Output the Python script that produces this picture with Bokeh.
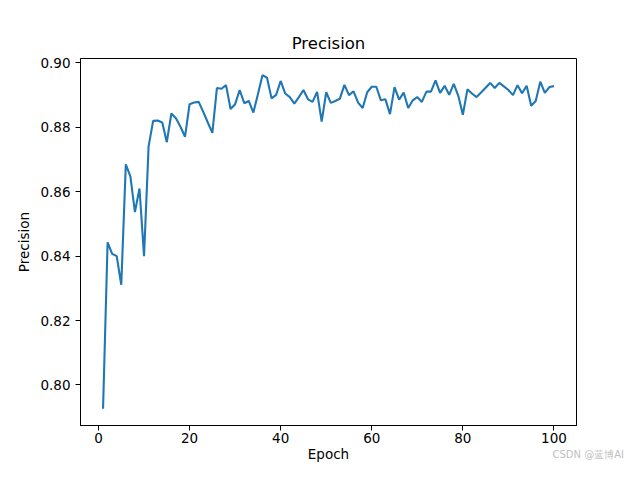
from bokeh.plotting import figure
from bokeh.models import Range1d, FixedTicker, NumeralTickFormatter, Div
from bokeh.layouts import column
from bokeh.embed import file_html
from bokeh.resources import INLINE

epochs = list(range(1, 101))
precision = [
    0.7926, 0.8443, 0.8407, 0.8400, 0.8311, 0.8685, 0.8648, 0.8537, 0.8610, 0.8400,
    0.8741, 0.8820, 0.8821, 0.8815, 0.8754, 0.8843, 0.8828, 0.8802, 0.8771, 0.8872,
    0.8877, 0.8879, 0.8848, 0.8815, 0.8783, 0.8922, 0.8920, 0.8931, 0.8857, 0.8872,
    0.8916, 0.8875, 0.8882, 0.8846, 0.8903, 0.8962, 0.8954, 0.8890, 0.8901, 0.8944,
    0.8905, 0.8894, 0.8874, 0.8894, 0.8916, 0.8887, 0.8879, 0.8910, 0.8818, 0.8909,
    0.8876, 0.8882, 0.8889, 0.8932, 0.8900, 0.8912, 0.8877, 0.8860, 0.8909, 0.8926,
    0.8926, 0.8884, 0.8887, 0.8841, 0.8925, 0.8886, 0.8908, 0.8860, 0.8884, 0.8894,
    0.8879, 0.8911, 0.8911, 0.8946, 0.8907, 0.8929, 0.8901, 0.8935, 0.8898, 0.8839,
    0.8918, 0.8905, 0.8894, 0.8908, 0.8923, 0.8938, 0.8922, 0.8938, 0.8927, 0.8916,
    0.8900, 0.8931, 0.8906, 0.8929, 0.8867, 0.8882, 0.8942, 0.8907, 0.8925, 0.8928,
]
x_ticks = [0, 20, 40, 60, 80, 100]
y_ticks = [0.80, 0.82, 0.84, 0.86, 0.88, 0.90]
title_text = "Precision"
x_label = "Epoch"
y_label = "Precision"
watermark = "CSDN @蓝博AI"

xmin, xmax = min(epochs), max(epochs)
ymin, ymax = min(precision), max(precision)
xpad = 0.05 * (xmax - xmin)
ypad = 0.05 * (ymax - ymin)

FONT = "DejaVu Sans"

p = figure(width=624, height=464, output_backend="svg", toolbar_location=None,
           x_range=Range1d(xmin - xpad, xmax + xpad),
           y_range=Range1d(ymin - ypad, ymax + ypad),
           min_border_left=80, min_border_right=48, min_border_top=58, min_border_bottom=37)

p.line(epochs, precision, line_color="#1f77b4", line_width=2.1)

p.title.text = title_text
p.title.align = "center"
p.title.text_font = FONT
p.title.text_font_size = "16.5px"
p.title.text_font_style = "normal"
p.title.text_color = "black"
p.title.standoff = 12

p.xgrid.visible = False
p.ygrid.visible = False
p.outline_line_color = "black"
p.outline_line_width = 1
p.background_fill_color = "white"
p.border_fill_color = "white"

for ax in (p.xaxis[0], p.yaxis[0]):
    ax.axis_line_color = "black"
    ax.axis_line_width = 1
    ax.major_tick_in = 0
    ax.major_tick_out = 5
    ax.minor_tick_line_color = None
    ax.major_tick_line_color = "black"
    ax.major_label_text_font = FONT
    ax.major_label_text_font_size = "13.5px"
    ax.major_label_text_color = "black"
    ax.major_label_standoff = 5
    ax.axis_label_text_font = FONT
    ax.axis_label_text_font_size = "13.5px"
    ax.axis_label_text_font_style = "normal"
    ax.axis_label_text_color = "black"
    ax.axis_label_standoff = 5

p.xaxis[0].major_label_standoff = 2
p.xaxis[0].axis_label_standoff = 0

p.xaxis[0].ticker = FixedTicker(ticks=x_ticks)
p.yaxis[0].ticker = FixedTicker(ticks=y_ticks)
p.yaxis[0].formatter = NumeralTickFormatter(format="0.00")
p.xaxis[0].axis_label = x_label
p.yaxis[0].axis_label = y_label

wm = Div(text=watermark, width=80, height=14, margin=(-16, 0, 0, 544),
         styles={"color": "#c0c0c0", "font-size": "10px", "font-family": FONT,
                 "white-space": "nowrap", "text-align": "right", "line-height": "14px"})

layout = column(p, wm, spacing=0)

open("out.html", "w").write(file_html(layout, INLINE))
